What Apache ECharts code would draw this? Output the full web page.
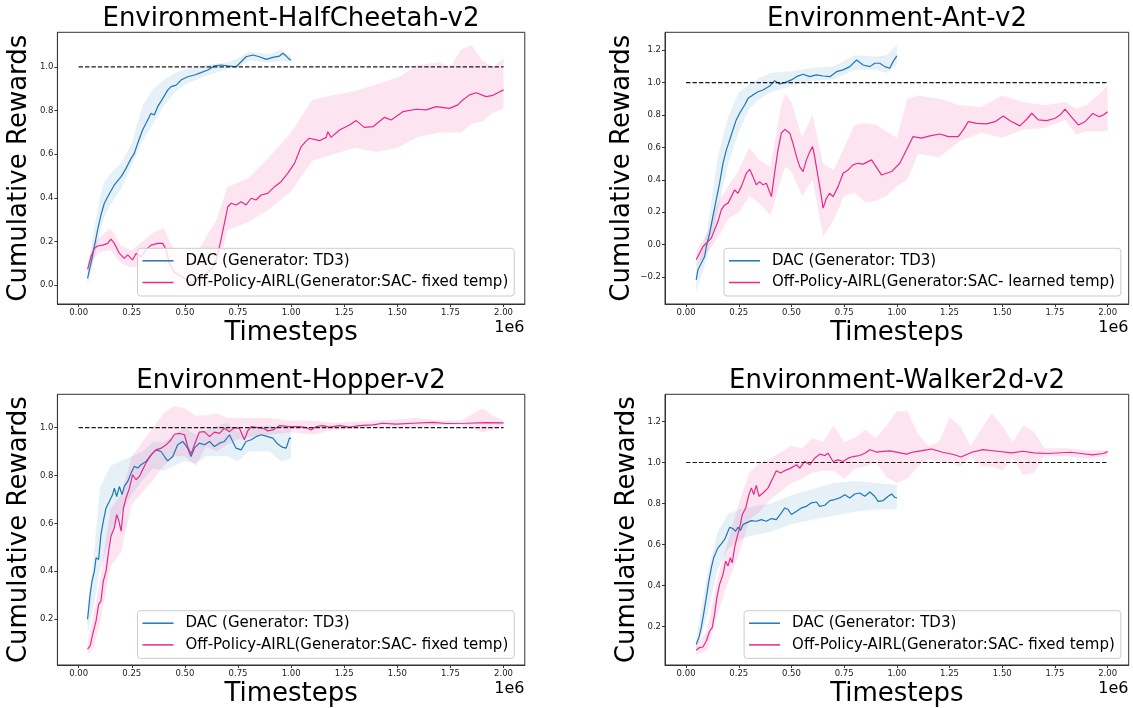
<!DOCTYPE html>
<html>
<head>
<meta charset="utf-8">
<script src="https://cdn.jsdelivr.net/npm/echarts@6/dist/echarts.min.js"></script>
<style>
html,body{margin:0;padding:0;background:#fff;}
#chart{width:1133px;height:708px;}
</style>
</head>
<body>
<div id="chart"></div>
<script>
// ---------- shared ----------
const titles = ['Environment-HalfCheetah-v2', 'Environment-Ant-v2', 'Environment-Hopper-v2', 'Environment-Walker2d-v2'];
const nameDAC = 'DAC (Generator: TD3)';
const nameFixed = 'Off-Policy-AIRL(Generator:SAC- fixed temp)';
const nameLearned = 'Off-Policy-AIRL(Generator:SAC- learned temp)';
const xTicks = [0, 0.25, 0.5, 0.75, 1.0, 1.25, 1.5, 1.75, 2.0];
const expertX = [0, 2.0];
const expertY = [1.0, 1.0];

// ---------- HalfCheetah ----------
const hcDacX = [0.042,0.058,0.074,0.089,0.105,0.121,0.145,0.168,0.2,0.223,0.247,0.262,0.278,0.301,0.325,0.341,0.356,0.372,0.396,0.419,0.435,0.459,0.482,0.513,0.545,0.576,0.608,0.639,0.671,0.702,0.741,0.765,0.788,0.82,0.851,0.883,0.914,0.945,0.961,0.977,0.992,1.0];
const hcDacY = [0.031,0.10,0.176,0.252,0.321,0.375,0.42,0.459,0.497,0.535,0.581,0.604,0.65,0.711,0.757,0.788,0.78,0.818,0.856,0.894,0.91,0.917,0.94,0.955,0.963,0.974,0.986,1.005,1.009,1.005,1.001,1.024,1.047,1.055,1.047,1.035,1.044,1.05,1.063,1.05,1.035,1.032];
const hcDacBandX = [0.042,0.07,0.1,0.12,0.15,0.2,0.25,0.3,0.35,0.4,0.45,0.5,0.6,0.7,0.75,0.8,0.9,0.95,1.0];
const hcDacBandLo = [0.00,0.10,0.24,0.31,0.37,0.44,0.55,0.66,0.74,0.82,0.88,0.92,0.96,0.99,1.00,1.03,1.02,1.03,1.02];
const hcDacBandHi = [0.06,0.24,0.40,0.47,0.51,0.56,0.65,0.82,0.90,0.94,0.97,0.99,1.01,1.02,1.04,1.07,1.06,1.08,1.05];
const hcAirlX = [0.042,0.058,0.074,0.089,0.113,0.137,0.152,0.168,0.192,0.215,0.231,0.254,0.27,0.294,0.317,0.341,0.372,0.396,0.412,0.427,0.45,0.48,0.5,0.53,0.55,0.58,0.6,0.63,0.65,0.663,0.686,0.702,0.718,0.741,0.765,0.788,0.812,0.835,0.859,0.89,0.922,0.953,0.984,1.016,1.047,1.07,1.086,1.134,1.165,1.173,1.188,1.228,1.275,1.306,1.345,1.385,1.44,1.471,1.526,1.589,1.636,1.683,1.746,1.785,1.808,1.84,1.871,1.918,1.95,1.98,2.0];
const hcAirlY = [0.072,0.13,0.168,0.179,0.183,0.191,0.21,0.191,0.145,0.122,0.138,0.115,0.145,0.13,0.161,0.183,0.191,0.191,0.161,0.10,0.06,0.04,0.03,0.01,0.02,0.04,0.05,0.08,0.12,0.176,0.283,0.359,0.375,0.367,0.382,0.367,0.398,0.39,0.413,0.42,0.451,0.474,0.512,0.558,0.634,0.66,0.673,0.662,0.677,0.703,0.677,0.711,0.734,0.754,0.723,0.726,0.769,0.757,0.795,0.806,0.803,0.818,0.81,0.826,0.849,0.872,0.882,0.864,0.87,0.885,0.895];
const hcAirlBandX = [0.042,0.07,0.1,0.15,0.2,0.25,0.3,0.35,0.4,0.45,0.5,0.55,0.6,0.65,0.7,0.8,0.9,1.0,1.1,1.2,1.3,1.4,1.5,1.6,1.7,1.75,1.8,1.85,1.9,1.95,2.0];
const hcAirlBandLo = [0.05,0.12,0.15,0.16,0.10,0.08,0.09,0.13,0.11,0.00,-0.03,-0.02,0.00,0.05,0.25,0.29,0.35,0.43,0.57,0.60,0.63,0.61,0.63,0.68,0.70,0.70,0.70,0.74,0.75,0.79,0.81];
const hcAirlBandHi = [0.10,0.19,0.22,0.26,0.18,0.16,0.20,0.24,0.26,0.16,0.12,0.14,0.22,0.30,0.45,0.49,0.59,0.70,0.85,0.87,0.89,0.92,0.95,1.01,1.02,1.00,1.08,1.10,1.03,1.00,1.04];

// ---------- Ant ----------
const antDacX = [0.048,0.056,0.072,0.088,0.096,0.112,0.127,0.143,0.159,0.175,0.191,0.207,0.222,0.238,0.254,0.278,0.294,0.317,0.341,0.365,0.397,0.42,0.444,0.468,0.5,0.524,0.555,0.587,0.619,0.65,0.682,0.714,0.745,0.777,0.809,0.84,0.872,0.895,0.919,0.943,0.966,0.982,1.0];
const antDacY = [-0.218,-0.156,-0.115,-0.074,-0.012,0.07,0.173,0.276,0.379,0.502,0.585,0.646,0.708,0.77,0.811,0.862,0.903,0.924,0.944,0.955,0.979,1.012,0.992,1.0,1.017,1.037,1.052,1.037,1.048,1.041,1.037,1.068,1.079,1.099,1.14,1.109,1.099,1.12,1.12,1.099,1.089,1.13,1.165];
const antDacBandX = [0.048,0.1,0.15,0.2,0.25,0.3,0.35,0.4,0.5,0.6,0.7,0.8,0.9,0.95,1.0];
const antDacBandLo = [-0.29,-0.08,0.21,0.50,0.70,0.84,0.90,0.94,0.98,1.01,1.02,1.08,1.08,1.06,1.11];
const antDacBandHi = [-0.15,0.08,0.54,0.79,0.94,0.99,1.03,1.06,1.07,1.09,1.10,1.17,1.16,1.17,1.23];
const antAirlX = [0.048,0.064,0.08,0.096,0.12,0.135,0.151,0.167,0.183,0.199,0.215,0.23,0.246,0.262,0.286,0.302,0.317,0.333,0.349,0.365,0.381,0.405,0.42,0.436,0.452,0.468,0.492,0.507,0.524,0.539,0.555,0.571,0.587,0.6,0.61,0.626,0.642,0.65,0.666,0.681,0.697,0.721,0.745,0.769,0.792,0.816,0.84,0.88,0.927,0.975,1.014,1.046,1.077,1.117,1.157,1.204,1.244,1.291,1.315,1.339,1.379,1.426,1.466,1.505,1.537,1.584,1.616,1.64,1.671,1.711,1.751,1.774,1.798,1.83,1.861,1.893,1.93,1.96,1.98,2.0];
const antAirlY = [-0.094,-0.053,-0.012,0.009,0.04,0.091,0.142,0.214,0.245,0.256,0.296,0.338,0.317,0.358,0.441,0.465,0.42,0.369,0.389,0.369,0.379,0.296,0.441,0.585,0.688,0.712,0.688,0.626,0.543,0.481,0.451,0.523,0.574,0.605,0.543,0.42,0.296,0.225,0.286,0.317,0.296,0.358,0.441,0.461,0.492,0.502,0.497,0.523,0.43,0.451,0.502,0.585,0.667,0.657,0.671,0.683,0.667,0.667,0.708,0.759,0.749,0.745,0.759,0.794,0.765,0.733,0.774,0.811,0.77,0.766,0.78,0.8,0.836,0.786,0.739,0.759,0.81,0.79,0.80,0.82];
const antAirlBandX = [0.048,0.1,0.15,0.2,0.25,0.3,0.35,0.4,0.45,0.47,0.5,0.55,0.6,0.65,0.7,0.75,0.8,0.85,0.9,0.95,1.0,1.05,1.1,1.2,1.3,1.4,1.5,1.6,1.7,1.8,1.85,1.9,2.0];
const antAirlBandLo = [-0.14,-0.05,0.04,0.16,0.20,0.30,0.25,0.18,0.40,0.48,0.45,0.30,0.40,0.05,0.15,0.30,0.32,0.26,0.27,0.30,0.36,0.40,0.56,0.54,0.64,0.69,0.66,0.71,0.72,0.77,0.68,0.70,0.70];
const antAirlBandHi = [-0.04,0.07,0.26,0.36,0.46,0.60,0.52,0.48,0.85,0.93,0.88,0.66,0.80,0.50,0.46,0.60,0.74,0.75,0.74,0.70,0.66,0.90,0.92,0.90,0.86,0.85,0.92,0.88,0.86,0.88,0.84,0.86,0.98];

// ---------- Hopper ----------
const hopDacX = [0.042,0.054,0.063,0.074,0.082,0.094,0.105,0.116,0.129,0.145,0.16,0.168,0.179,0.192,0.204,0.215,0.231,0.247,0.262,0.278,0.294,0.317,0.341,0.364,0.388,0.404,0.419,0.443,0.466,0.49,0.513,0.529,0.545,0.568,0.592,0.616,0.639,0.663,0.686,0.71,0.725,0.741,0.765,0.788,0.812,0.835,0.859,0.89,0.914,0.937,0.961,0.977,0.992,1.0];
const hopDacY = [0.199,0.303,0.358,0.4,0.456,0.449,0.553,0.608,0.664,0.692,0.72,0.747,0.712,0.754,0.72,0.754,0.775,0.81,0.838,0.831,0.845,0.858,0.886,0.907,0.9,0.879,0.861,0.879,0.928,0.942,0.914,0.879,0.914,0.935,0.928,0.942,0.921,0.935,0.942,0.97,0.942,0.914,0.907,0.942,0.949,0.962,0.97,0.962,0.956,0.931,0.917,0.914,0.956,0.955];
const hopDacBandX = [0.042,0.07,0.1,0.15,0.2,0.25,0.3,0.35,0.4,0.45,0.5,0.55,0.6,0.7,0.75,0.8,0.9,0.95,1.0];
const hopDacBandLo = [0.14,0.25,0.40,0.55,0.64,0.72,0.78,0.83,0.82,0.84,0.86,0.85,0.88,0.88,0.86,0.90,0.90,0.86,0.87];
const hopDacBandHi = [0.26,0.45,0.75,0.84,0.86,0.88,0.90,0.94,0.94,0.97,1.00,0.97,0.99,1.02,0.98,1.00,1.01,0.99,1.00];
const hopAirlX = [0.042,0.054,0.066,0.082,0.094,0.105,0.116,0.129,0.141,0.152,0.168,0.179,0.188,0.2,0.211,0.223,0.239,0.254,0.27,0.286,0.301,0.317,0.341,0.364,0.388,0.412,0.435,0.451,0.474,0.498,0.513,0.529,0.545,0.568,0.592,0.616,0.639,0.663,0.686,0.71,0.733,0.757,0.78,0.796,0.812,0.843,0.875,0.89,0.914,0.945,0.992,1.039,1.071,1.094,1.118,1.149,1.18,1.228,1.275,1.322,1.385,1.432,1.495,1.573,1.667,1.73,1.824,1.918,2.0];
const hopAirlY = [0.074,0.088,0.136,0.192,0.261,0.275,0.358,0.4,0.483,0.546,0.581,0.636,0.615,0.567,0.664,0.706,0.747,0.803,0.782,0.796,0.824,0.852,0.886,0.907,0.914,0.928,0.949,0.972,0.976,0.97,0.921,0.889,0.928,0.981,0.983,0.962,0.981,0.976,0.997,0.983,1.0,0.997,0.949,0.986,1.004,1.0,0.995,0.986,0.99,1.008,1.004,1.004,1.0,0.99,1.004,1.008,1.002,1.008,1.002,1.008,1.011,1.018,1.014,1.018,1.022,1.017,1.018,1.021,1.02];
const hopAirlBandX = [0.042,0.07,0.1,0.15,0.2,0.25,0.3,0.35,0.4,0.45,0.5,0.55,0.6,0.65,0.7,0.75,0.8,0.9,1.0,1.1,1.2,1.4,1.6,1.7,1.8,1.9,1.95,2.0];
const hopAirlBandLo = [0.05,0.08,0.18,0.42,0.48,0.68,0.73,0.78,0.84,0.88,0.88,0.84,0.92,0.90,0.93,0.95,0.96,0.97,0.98,0.97,0.99,1.00,1.00,1.01,1.01,0.98,0.99,1.01];
const hopAirlBandHi = [0.10,0.22,0.36,0.66,0.72,0.88,0.94,1.00,1.06,1.09,1.08,1.05,1.05,1.06,1.04,1.04,1.04,1.04,1.03,1.03,1.02,1.03,1.04,1.03,1.03,1.08,1.05,1.03];

// ---------- Walker2d ----------
const wkDacX = [0.048,0.061,0.072,0.083,0.096,0.108,0.12,0.131,0.14,0.151,0.167,0.183,0.199,0.207,0.222,0.235,0.246,0.258,0.27,0.286,0.31,0.333,0.357,0.381,0.405,0.428,0.452,0.468,0.484,0.5,0.524,0.547,0.571,0.595,0.619,0.634,0.658,0.682,0.705,0.729,0.753,0.777,0.8,0.824,0.848,0.872,0.895,0.911,0.935,0.959,0.975,0.99,1.0];
const wkDacY = [0.112,0.145,0.194,0.258,0.34,0.421,0.486,0.535,0.526,0.583,0.603,0.624,0.664,0.684,0.677,0.664,0.684,0.668,0.697,0.705,0.716,0.713,0.721,0.713,0.726,0.721,0.754,0.778,0.77,0.746,0.762,0.778,0.786,0.803,0.807,0.786,0.791,0.814,0.819,0.827,0.843,0.827,0.846,0.851,0.835,0.856,0.835,0.81,0.814,0.835,0.846,0.83,0.827];
const wkDacBandX = [0.048,0.1,0.15,0.2,0.25,0.3,0.4,0.5,0.6,0.7,0.8,0.9,1.0];
const wkDacBandLo = [0.08,0.25,0.48,0.58,0.62,0.64,0.66,0.70,0.72,0.74,0.76,0.77,0.77];
const wkDacBandHi = [0.14,0.45,0.66,0.75,0.77,0.78,0.80,0.84,0.87,0.90,0.91,0.90,0.89];
const wkAirlX = [0.048,0.064,0.08,0.096,0.112,0.124,0.135,0.146,0.159,0.175,0.188,0.199,0.21,0.219,0.23,0.241,0.254,0.267,0.283,0.298,0.31,0.321,0.333,0.346,0.365,0.389,0.412,0.428,0.448,0.468,0.492,0.524,0.539,0.563,0.587,0.61,0.634,0.658,0.674,0.697,0.721,0.745,0.769,0.792,0.824,0.848,0.872,0.903,0.935,0.967,0.998,1.046,1.077,1.148,1.165,1.217,1.269,1.304,1.356,1.408,1.477,1.546,1.598,1.65,1.719,1.823,1.875,1.927,1.979,2.0];
const wkAirlY = [0.083,0.096,0.099,0.128,0.177,0.194,0.258,0.34,0.405,0.453,0.518,0.494,0.535,0.51,0.583,0.632,0.681,0.746,0.778,0.843,0.876,0.843,0.888,0.835,0.851,0.876,0.924,0.96,0.949,0.96,0.97,0.989,0.973,1.005,0.989,1.021,1.041,1.034,1.045,1.005,1.013,1.005,1.021,1.029,1.034,1.045,1.062,1.051,1.054,1.057,1.051,1.041,1.051,1.063,1.066,1.05,1.039,1.027,1.05,1.063,1.055,1.047,1.055,1.047,1.044,1.05,1.044,1.037,1.044,1.053];
const wkAirlBandX = [0.048,0.1,0.15,0.2,0.25,0.3,0.35,0.4,0.45,0.5,0.55,0.6,0.65,0.7,0.75,0.8,0.85,0.9,0.95,1.0,1.05,1.1,1.15,1.2,1.25,1.3,1.35,1.4,1.45,1.5,1.55,1.6,1.65,1.7,1.8,1.9,2.0];
const wkAirlBandLo = [0.06,0.08,0.26,0.42,0.55,0.72,0.76,0.82,0.86,0.90,0.92,0.95,0.96,0.96,0.92,0.97,0.98,1.00,0.93,0.90,0.92,0.98,1.02,1.00,1.00,0.98,1.03,0.98,0.98,0.96,1.02,0.94,0.95,1.03,1.03,1.02,1.03];
const wkAirlBandHi = [0.11,0.18,0.44,0.62,0.80,0.95,1.00,1.02,1.05,1.08,1.07,1.12,1.10,1.18,1.10,1.12,1.16,1.12,1.18,1.25,1.25,1.14,1.08,1.10,1.22,1.18,1.08,1.16,1.24,1.18,1.10,1.18,1.15,1.07,1.07,1.06,1.06];

// ---------- plotting ----------
const FONT = 'DejaVu Sans';
const BLUE = '#1f77b4';
const PINK = '#e7298a';
const BLUE_BAND = 'rgba(31,119,180,0.11)';
const PINK_BAND = 'rgba(231,41,138,0.12)';

const grids = [
  {left: 57.4, top: 32.3, width: 467.4, height: 271.7},
  {left: 665, top: 32.3, width: 463.7, height: 271.7},
  {left: 57.4, top: 394.3, width: 467.4, height: 271.4},
  {left: 665, top: 394.3, width: 463.7, height: 271.4}
];
const yRanges = [[-0.087, 1.159], [-0.367, 1.311], [0.008, 1.139], [0.011, 1.333]];
const yTicks = [
  [0, 0.2, 0.4, 0.6, 0.8, 1.0],
  [-0.2, 0, 0.2, 0.4, 0.6, 0.8, 1.0, 1.2],
  [0.2, 0.4, 0.6, 0.8, 1.0],
  [0.2, 0.4, 0.6, 0.8, 1.0, 1.2]
];
const yNameGaps = [25, 30, 25, 25];

function zip(a, b) { return a.map((v, i) => [v, b[i]]); }

function band(idx, bx, lo, hi, color) {
  return {
    type: 'custom', xAxisIndex: idx, yAxisIndex: idx, silent: true, z: 1,
    data: [[bx[0], lo[0]]],
    renderItem: function (params, api) {
      const pts = [];
      for (let i = 0; i < bx.length; i++) pts.push(api.coord([bx[i], hi[i]]));
      for (let i = bx.length - 1; i >= 0; i--) pts.push(api.coord([bx[i], lo[i]]));
      return {type: 'polygon', shape: {points: pts}, style: {fill: color}};
    }
  };
}
function line(idx, name, x, y, color) {
  return {
    type: 'line', name: name, xAxisIndex: idx, yAxisIndex: idx, data: zip(x, y),
    showSymbol: false, symbol: 'none', z: 2, color: color,
    lineStyle: {width: 1.2, color: color}
  };
}
function expert(idx) {
  return {
    type: 'line', name: 'expert', xAxisIndex: idx, yAxisIndex: idx, data: zip(expertX, expertY),
    showSymbol: false, symbol: 'none', z: 3, silent: true,
    lineStyle: {width: 1.2, color: '#1a1a1a', type: [4.4, 2.0]}
  };
}

const panels = [
  [hcDacX, hcDacY, hcDacBandX, hcDacBandLo, hcDacBandHi, hcAirlX, hcAirlY, hcAirlBandX, hcAirlBandLo, hcAirlBandHi, nameFixed],
  [antDacX, antDacY, antDacBandX, antDacBandLo, antDacBandHi, antAirlX, antAirlY, antAirlBandX, antAirlBandLo, antAirlBandHi, nameLearned],
  [hopDacX, hopDacY, hopDacBandX, hopDacBandLo, hopDacBandHi, hopAirlX, hopAirlY, hopAirlBandX, hopAirlBandLo, hopAirlBandHi, nameFixed],
  [wkDacX, wkDacY, wkDacBandX, wkDacBandLo, wkDacBandHi, wkAirlX, wkAirlY, wkAirlBandX, wkAirlBandLo, wkAirlBandHi, nameFixed]
];

const series = [];
panels.forEach((p, i) => {
  series.push(band(i, p[2], p[3], p[4], BLUE_BAND));
  series.push(line(i, nameDAC, p[0], p[1], BLUE));
  series.push(band(i, p[7], p[8], p[9], PINK_BAND));
  series.push(line(i, p[10], p[5], p[6], PINK));
  series.push(expert(i));
});

const axisLineStyle = {color: '#333', width: 1};
const xAxes = grids.map((g, i) => ({
  type: 'value', gridIndex: i, min: -0.1, max: 2.1,
  name: 'Timesteps', nameLocation: 'middle', nameGap: 16,
  nameTextStyle: {fontSize: 26, fontFamily: FONT, color: '#000'},
  axisLine: {show: true, onZero: false, lineStyle: axisLineStyle},
  axisTick: {show: true, length: 3, customValues: xTicks, lineStyle: axisLineStyle},
  axisLabel: {customValues: xTicks, formatter: v => v.toFixed(2), fontSize: 8.5, fontFamily: FONT, color: '#222', margin: 4},
  splitLine: {show: false}
}));
const yAxes = grids.map((g, i) => ({
  type: 'value', gridIndex: i, min: yRanges[i][0], max: yRanges[i][1],
  name: 'Cumulative Rewards', nameLocation: 'middle', nameGap: yNameGaps[i],
  nameTextStyle: {fontSize: 26, fontFamily: FONT, color: '#000'},
  axisLine: {show: true, onZero: false, lineStyle: axisLineStyle},
  axisTick: {show: true, length: 3, customValues: yTicks[i], lineStyle: axisLineStyle},
  axisLabel: {customValues: yTicks[i], formatter: v => (v < 0 ? '\u2212' : '') + Math.abs(v).toFixed(1), fontSize: 8.5, fontFamily: FONT, color: '#222', margin: 4},
  splitLine: {show: false}
}));

const titleCenters = [[291, 5.8], [897, 5.8], [291, 368.3], [897, 368.3]];
const title = titles.map((t, i) => ({
  text: t, left: titleCenters[i][0], top: titleCenters[i][1], textAlign: 'center', padding: 0,
  textStyle: {fontSize: 26, fontWeight: 'normal', fontFamily: FONT, color: '#000'}
}));

const legendPos = [[137.5, 248.3], [724, 248.3], [137.5, 610.7], [744.1, 610.7]];
const legend = legendPos.map((pos, i) => ({
  data: [nameDAC, panels[i][10]], left: pos[0], top: pos[1], orient: 'vertical',
  icon: 'rect', itemWidth: 31, itemHeight: 1.5, itemGap: 4.7, padding: [4, 6, 5, 5],
  backgroundColor: 'rgba(255,255,255,0.8)', borderColor: '#cccccc', borderWidth: 1, borderRadius: 3,
  selectedMode: false,
  textStyle: {fontSize: 15, fontFamily: FONT, color: '#000', lineHeight: 17, padding: [0, 0, 0, 7]}
}));

const expPos = [[524.5, 327.5], [1128.5, 327.5], [524.5, 689], [1128.5, 689]];
const graphic = expPos.map(p => ({
  type: 'text', x: p[0], y: p[1], silent: true,
  style: {text: '1e6', font: '16px "DejaVu Sans"', fill: '#000', align: 'right', verticalAlign: 'middle', textAlign: 'right', textVerticalAlign: 'middle'}
}));

const chart = echarts.init(document.getElementById('chart'), null, {renderer: 'canvas'});
chart.setOption({
  animation: false,
  backgroundColor: '#ffffff',
  title: title,
  legend: legend,
  grid: grids.map(g => Object.assign({show: true, borderColor: '#333', borderWidth: 1, backgroundColor: 'transparent'}, g)),
  xAxis: xAxes,
  yAxis: yAxes,
  graphic: graphic,
  series: series
});
</script>
</body>
</html>
